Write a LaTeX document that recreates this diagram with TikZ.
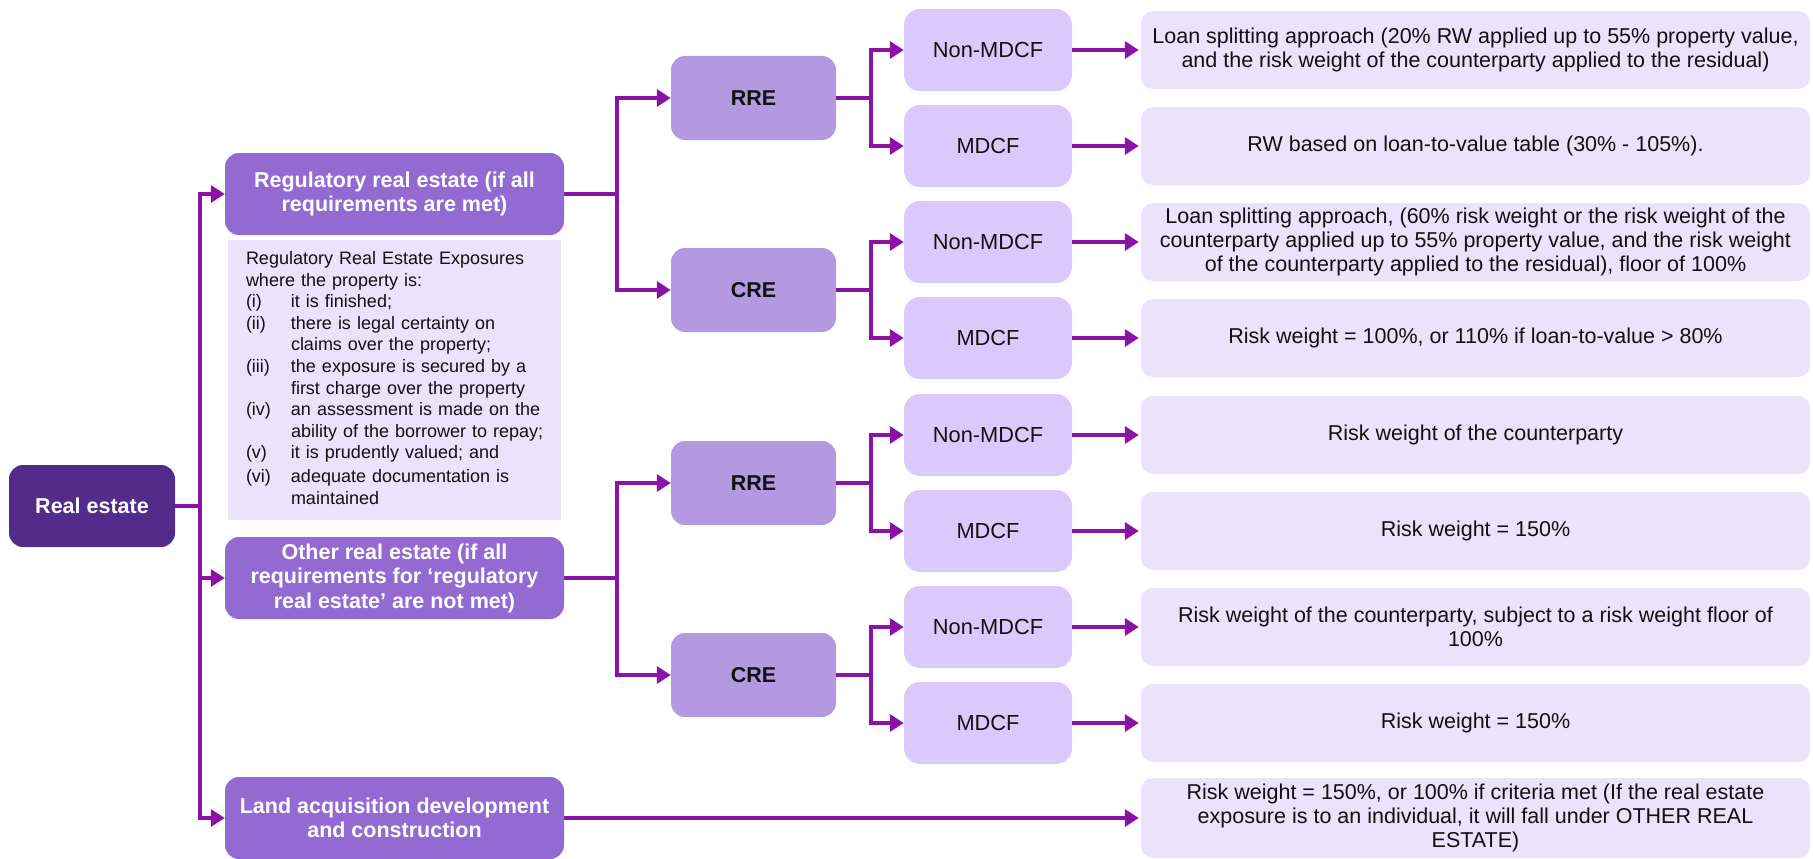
\documentclass[tikz,border=0pt]{standalone}
\usepackage{fontspec}
\setmainfont{Liberation Sans}
\usetikzlibrary{arrows.meta}

\definecolor{deep}{HTML}{522B8B}
\definecolor{mid}{HTML}{9369D2}
\definecolor{soft}{HTML}{B39AE0}
\definecolor{pale}{HTML}{DCC9FB}
\definecolor{paler}{HTML}{EBE2FC}
\definecolor{wire}{HTML}{8A12A6}
\definecolor{ink}{HTML}{111111}

\tikzset{
  base/.style={rounded corners=14pt, inner sep=0pt, align=center},
  rootbox/.style={base, fill=deep, text=white,
    font=\fontsize{21.5}{24.5}\selectfont\bfseries,
    minimum width=166pt, minimum height=82pt},
  catbox/.style={base, fill=mid, text=white,
    font=\fontsize{21.5}{24.5}\selectfont\bfseries,
    minimum width=339pt, minimum height=82pt},
  typebox/.style={base, fill=soft, text=ink,
    font=\fontsize{21.5}{24.5}\selectfont\bfseries,
    minimum width=165pt, minimum height=84pt},
  leafbox/.style={base, rounded corners=16pt, fill=pale, text=ink,
    font=\fontsize{21.8}{24.5}\selectfont,
    minimum width=168pt, minimum height=82pt},
  resbox/.style={base, rounded corners=12pt, fill=paler, text=ink,
    font=\fontsize{21.5}{24}\selectfont,
    minimum width=669pt, minimum height=78pt},
  notebox/.style={fill=paler, text=ink, inner sep=0pt,
    font=\fontsize{18}{21.6}\selectfont, align=left,
    text width=333pt, minimum height=280pt},
  link/.style={draw=wire, line width=4pt,
    -{Triangle[length=14pt,width=17pt]}},
}

\begin{document}
\begin{tikzpicture}[x=1pt,y=-1pt]
  \useasboundingbox (0,0) rectangle (1813,859);

  % branch columns
  \coordinate (tx) at (200,0);
  \coordinate (bx) at (617,0);
  \coordinate (sx) at (871,0);

  % root and categories
  \node[rootbox] (re) at (92,506) {Real estate};
  \node[catbox] (reg) at (394.5,194) {Regulatory real estate (if all\\requirements are met)};
  \node[notebox] (note) at (394.5,380) {%
    \begin{tabular}{@{\hspace{18pt}}p{45pt}@{}l@{}}
      \multicolumn{2}{@{\hspace{18pt}}l@{}}{Regulatory Real Estate Exposures}\\
      \multicolumn{2}{@{\hspace{18pt}}l@{}}{where the property is:}\\
      (i)   & it is finished;\\
      (ii)  & there is legal certainty on\\
            & claims over the property;\\
      (iii) & the exposure is secured by a\\
            & first charge over the property\\
      (iv)  & an assessment is made on the\\
            & ability of the borrower to repay;\\
      (v)   & it is prudently valued; and\\[2pt]
      (vi)  & adequate documentation is\\
            & maintained
    \end{tabular}};
  \node[catbox] (oth) at (394.5,578) {Other real estate (if all\\requirements for ‘regulatory\\real estate’ are not met)};
  \node[catbox] (land) at (394.5,818) {Land acquisition development\\and construction};

  % property types
  \node[typebox] (rre1) at (753.5,98) {RRE};
  \node[typebox] (cre1) at (753.5,290) {CRE};
  \node[typebox] (rre2) at (753.5,483) {RRE};
  \node[typebox] (cre2) at (753.5,675) {CRE};

  % cash-flow dependence
  \node[leafbox] (l1) at (988,50) {Non-MDCF};
  \node[leafbox] (l2) at (988,146) {MDCF};
  \node[leafbox] (l3) at (988,242) {Non-MDCF};
  \node[leafbox] (l4) at (988,338) {MDCF};
  \node[leafbox] (l5) at (988,435) {Non-MDCF};
  \node[leafbox] (l6) at (988,531) {MDCF};
  \node[leafbox] (l7) at (988,627) {Non-MDCF};
  \node[leafbox] (l8) at (988,723) {MDCF};

  % risk weight outcomes
  \node[resbox] (r1) at (1475.5,50) {Loan splitting approach (20\% RW applied up to 55\% property value,\\and the risk weight of the counterparty applied to the residual)};
  \node[resbox] (r2) at (1475.5,146) {RW based on loan-to-value table (30\% - 105\%).};
  \node[resbox] (r3) at (1475.5,242) {Loan splitting approach, (60\% risk weight or the risk weight of the\\counterparty applied up to 55\% property value, and the risk weight\\of the counterparty applied to the residual), floor of 100\%};
  \node[resbox] (r4) at (1475.5,338) {Risk weight = 100\%, or 110\% if loan-to-value > 80\%};
  \node[resbox] (r5) at (1475.5,435) {Risk weight of the counterparty};
  \node[resbox] (r6) at (1475.5,531) {Risk weight = 150\%};
  \node[resbox] (r7) at (1475.5,627) {Risk weight of the counterparty, subject to a risk weight floor of\\100\%};
  \node[resbox] (r8) at (1475.5,723) {Risk weight = 150\%};
  \node[resbox, minimum height=80pt] (r9) at (1475.5,818) {Risk weight = 150\%, or 100\% if criteria met (If the real estate\\exposure is to an individual, it will fall under OTHER REAL\\ESTATE)};

  % root to categories
  \draw[link] (re.east) -- (re.east -| tx) |- (reg.west);
  \draw[link] (re.east) -- (re.east -| tx) |- (oth.west);
  \draw[link] (re.east) -- (re.east -| tx) |- (land.west);

  % categories to property types
  \draw[link] (reg.east) -- (reg.east -| bx) |- (rre1.west);
  \draw[link] (reg.east) -- (reg.east -| bx) |- (cre1.west);
  \draw[link] (oth.east) -- (oth.east -| bx) |- (rre2.west);
  \draw[link] (oth.east) -- (oth.east -| bx) |- (cre2.west);

  % property types to cash-flow dependence
  \draw[link] (rre1.east) -- (rre1.east -| sx) |- (l1.west);
  \draw[link] (rre1.east) -- (rre1.east -| sx) |- (l2.west);
  \draw[link] (cre1.east) -- (cre1.east -| sx) |- (l3.west);
  \draw[link] (cre1.east) -- (cre1.east -| sx) |- (l4.west);
  \draw[link] (rre2.east) -- (rre2.east -| sx) |- (l5.west);
  \draw[link] (rre2.east) -- (rre2.east -| sx) |- (l6.west);
  \draw[link] (cre2.east) -- (cre2.east -| sx) |- (l7.west);
  \draw[link] (cre2.east) -- (cre2.east -| sx) |- (l8.west);

  % outcomes
  \foreach \i in {1,...,8}
    \draw[link, shorten >=2pt] (l\i.east) -- (r\i.west);
  \draw[link, shorten >=2pt] (land.east) -- (r9.west);
\end{tikzpicture}
\end{document}
